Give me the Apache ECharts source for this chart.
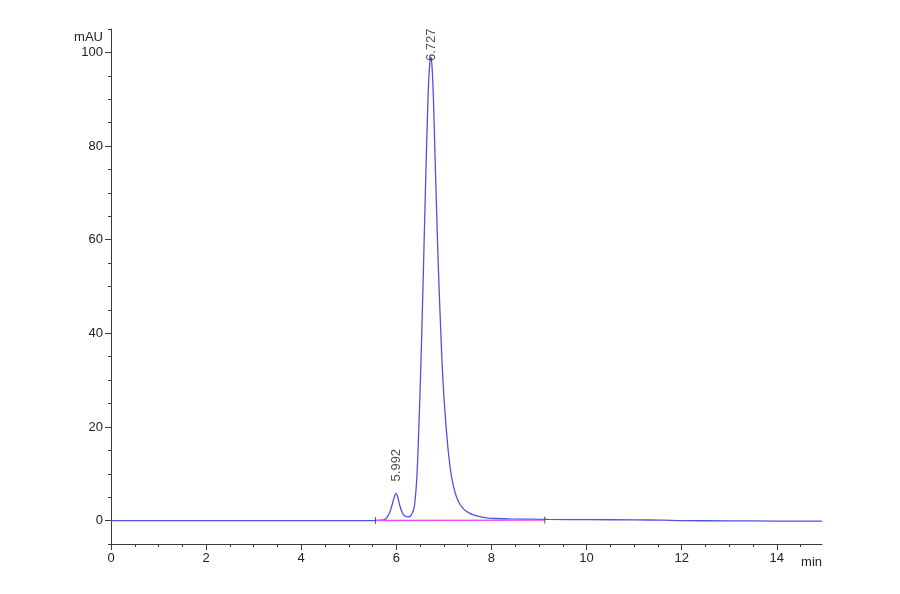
<!DOCTYPE html>
<html>
<head>
<meta charset="utf-8">
<script src="https://cdn.jsdelivr.net/npm/echarts@6/dist/echarts.min.js"></script>
<style>
  html, body { margin: 0; padding: 0; background: #fff; }
  #chart { width: 900px; height: 594px; }
</style>
</head>
<body>
<div id="chart"></div>
<script>
// chromatogram trace (min, mAU)
var traceTime = [0, 2, 4, 5, 5.5, 5.7, 5.78, 5.85, 5.9, 5.95, 5.99, 6.03, 6.07, 6.12, 6.18, 6.24, 6.29, 6.33, 6.37,
  6.4, 6.43, 6.46, 6.5, 6.54, 6.58, 6.62, 6.65, 6.68, 6.71, 6.727, 6.75, 6.78, 6.81, 6.85, 6.88, 6.92, 6.96,
  7.0, 7.05, 7.1, 7.15, 7.2, 7.26, 7.33, 7.42, 7.52, 7.62, 7.75, 7.9, 8.1, 8.4, 8.8, 9.2, 10, 11, 11.6, 12, 13, 14, 14.95];
var traceMau = [0, 0, 0, 0, 0, 0.1, 0.4, 1.5, 3.0, 4.8, 5.8, 5.0, 3.3, 1.8, 1.0, 0.8, 0.9, 1.5, 2.6,
  5.0, 9.0, 16, 28, 42, 58, 74, 85, 94, 98.5, 99.0, 97, 90, 79, 65, 55, 44, 34,
  26.5, 19.5, 14, 10, 7.4, 5.2, 3.6, 2.4, 1.7, 1.2, 0.85, 0.6, 0.45, 0.35, 0.3, 0.25, 0.2, 0.15, 0.1, 0.0, -0.05, -0.1, -0.1];

// integration baseline
var baseTime = [5.56, 9.12];
var baseMau = [0.02, 0.12];

// peaks
var peakTime = [5.992, 6.727];
var peakMau = [5.8, 99.0];
var peakLabels = ['5.992', '6.727'];

// axis ticks
var xMajor = [0, 2, 4, 6, 8, 10, 12, 14];
var xMinor = [];
for (var i = 0; i <= 29; i++) xMinor.push(i * 0.5);
var yMajor = [0, 20, 40, 60, 80, 100];
var yMinor = [];
for (var j = -5; j <= 105; j += 5) yMinor.push(j);

var font = 'Liberation Sans';
var axisColor = '#3a3a3a';

var chart = echarts.init(document.getElementById('chart'), null, { renderer: 'canvas' });

function pairs(xs, ys) {
  var out = [];
  for (var k = 0; k < xs.length; k++) out.push([xs[k], ys[k]]);
  return out;
}

var peakData = [];
for (var p = 0; p < peakTime.length; p++) {
  peakData.push({
    value: [peakTime[p], peakMau[p]],
    label: { distance: p === 0 ? 12 : -4 }
  });
}

var option = {
  animation: false,
  grid: { left: 111, top: 29, right: 78, bottom: 50 },
  xAxis: [{
    type: 'value', min: 0, max: 14.95, position: 'bottom',
    name: 'min', nameLocation: 'end', nameGap: 0, nameMoveOverlap: false,
    nameTextStyle: { fontFamily: font, fontSize: 13, color: '#222', align: 'right', verticalAlign: 'top', padding: [12, 0, 0, 0] },
    axisLine: { show: true, onZero: false, lineStyle: { color: axisColor, width: 1 } },
    axisTick: { show: true, length: 6, customValues: xMajor, lineStyle: { color: axisColor } },
    axisLabel: { customValues: xMajor, fontFamily: font, fontSize: 13, color: '#222', margin: 8 },
    splitLine: { show: false }
  }, {
    type: 'value', min: 0, max: 14.95, position: 'bottom',
    axisLine: { show: false, onZero: false },
    axisTick: { show: true, length: 3, customValues: xMinor, lineStyle: { color: axisColor } },
    axisLabel: { show: false },
    splitLine: { show: false }
  }],
  yAxis: [{
    type: 'value', min: -5, max: 105, position: 'left',
    name: 'mAU', nameLocation: 'end', nameGap: -8, nameMoveOverlap: false,
    nameTextStyle: { fontFamily: font, fontSize: 13, color: '#222', align: 'right', verticalAlign: 'middle', padding: [0, 8, 0, 0] },
    axisLine: { show: true, onZero: false, lineStyle: { color: axisColor, width: 1 } },
    axisTick: { show: true, length: 6, customValues: yMajor, lineStyle: { color: axisColor } },
    axisLabel: { customValues: yMajor, fontFamily: font, fontSize: 13, color: '#222', margin: 8 },
    splitLine: { show: false }
  }, {
    type: 'value', min: -5, max: 105, position: 'left',
    axisLine: { show: false, onZero: false },
    axisTick: { show: true, length: 3, customValues: yMinor, lineStyle: { color: axisColor } },
    axisLabel: { show: false },
    splitLine: { show: false }
  }],
  series: [{
    name: 'signal', type: 'line', data: pairs(traceTime, traceMau),
    xAxisIndex: 0, yAxisIndex: 0,
    showSymbol: false, smooth: 0.3, z: 3,
    lineStyle: { color: '#5252e2', width: 1.3 }
  }, {
    name: 'baseline', type: 'line', data: pairs(baseTime, baseMau),
    xAxisIndex: 0, yAxisIndex: 0,
    showSymbol: false, z: 4,
    lineStyle: { color: '#f04af0', width: 1.3 }
  }, {
    name: 'marks', type: 'scatter', data: pairs(baseTime, baseMau),
    xAxisIndex: 0, yAxisIndex: 0,
    symbol: 'rect', symbolSize: [1, 7], z: 5,
    itemStyle: { color: '#333' }
  }, {
    name: 'peaks', type: 'scatter', data: peakData,
    xAxisIndex: 0, yAxisIndex: 0,
    symbolSize: 0, z: 6,
    label: {
      show: true, position: 'top', rotate: 90, align: 'left', verticalAlign: 'middle',
      fontFamily: font, fontSize: 13, color: '#222',
      formatter: function (params) { return peakLabels[params.dataIndex]; }
    }
  }]
};

chart.setOption(option);
</script>
</body>
</html>
